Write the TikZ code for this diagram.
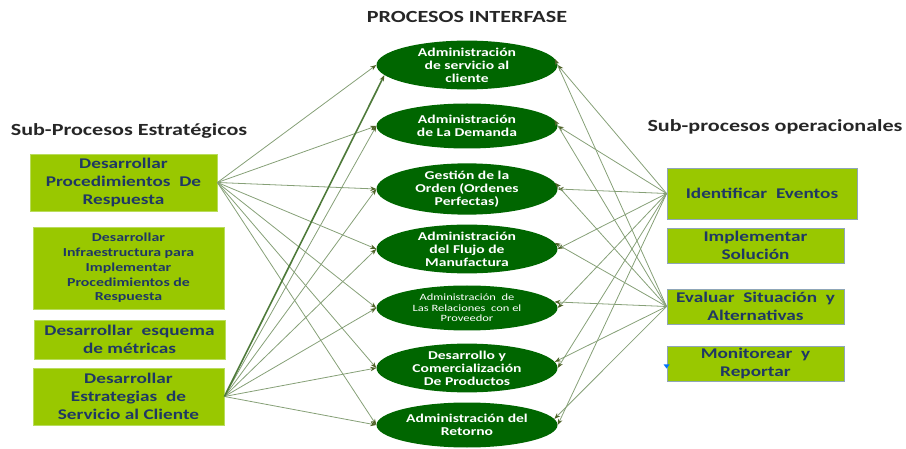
\documentclass[tikz,border=0pt]{standalone}
\usepackage{fontspec}
\setmainfont{Carlito}
\newfontfamily\widefont{Carlito}[FakeStretch=1.3]
\usetikzlibrary{arrows.meta,shapes.geometric}

\definecolor{boxgreen}{HTML}{99C800}
\definecolor{boxedge}{HTML}{B9DC5C}
\definecolor{opedge}{HTML}{8FA6B8}
\definecolor{ovalgreen}{HTML}{006600}
\definecolor{navy}{HTML}{1F3864}
\definecolor{titlegray}{HTML}{262626}
\definecolor{linkgreen}{HTML}{86A077}
\definecolor{tipgreen}{HTML}{4F6228}
\definecolor{thickgreen}{HTML}{4E7A3A}

\tikzset{
  heading/.style={text=titlegray, font=\widefont\bfseries\fontsize{17}{20}\selectfont, inner sep=0},
  stratbox/.style={rectangle, fill=boxgreen, draw=boxedge, line width=0.8pt, text=navy,
    align=center, inner sep=0, font=\widefont\bfseries\fontsize{14.8}{18}\selectfont},
  opbox/.style={stratbox, draw=opedge},
  proc/.style={ellipse, fill=ovalgreen, text=white, minimum width=181pt, minimum height=45pt,
    inner sep=0, align=center, font=\widefont\bfseries\fontsize{12}{13}\selectfont},
  link/.style={draw=linkgreen, line width=0.8pt,
    -{Stealth[length=6pt,width=4.5pt,color=tipgreen]}},
  boldlink/.style={link, draw=thickgreen, line width=1.6pt}
}

\begin{document}
\begin{tikzpicture}[x=1pt,y=-1pt]
\useasboundingbox (0,0) rectangle (906,449);

% headings
\node[heading] (hmid) at (467,17) {PROCESOS INTERFASE};
\node[heading] (hleft) at (129,131) {Sub-Procesos Estratégicos};
\node[heading] (hright) at (775,127) {Sub-procesos operacionales};

% strategic sub-processes
\node[stratbox, minimum width=187pt, minimum height=57pt] (b1) at (123.5,182.5)
  {Desarrollar\\Procedimientos~ De\\Respuesta};
\node[stratbox, minimum width=191pt, minimum height=82pt,
  font=\widefont\bfseries\fontsize{12.2}{14.8}\selectfont] (b2) at (128.5,268)
  {Desarrollar\\Infraestructura para\\Implementar\\Procedimientos de\\Respuesta};
\node[stratbox, minimum width=191pt, minimum height=39pt] (b3) at (129.5,339.5)
  {Desarrollar~ esquema\\de métricas};
\node[stratbox, minimum width=191pt, minimum height=57pt] (b4) at (128.5,396.5)
  {Desarrollar\\Estrategias~ de\\Servicio al Cliente};

% interface processes
\node[proc] (e1) at (467,65) {Administración\\de servicio al\\cliente};
\node[proc] (e2) at (467,126) {Administración\\de La Demanda};
\node[proc] (e3) at (467,189) {Gestión de la\\Orden (Ordenes\\Perfectas)};
\node[proc] (e4) at (467,249) {Administración\\del Flujo de\\Manufactura};
\node[proc, font=\widefont\fontsize{9.6}{10.5}\selectfont] (e5) at (467,308)
  {Administración~ de\\Las Relaciones~ con el\\Proveedor};
\node[proc] (e6) at (467,368) {Desarrollo y\\Comercialización\\De Productos};
\node[proc] (e7) at (467,425) {Administración del\\Retorno};

% operational sub-processes
\node[opbox, minimum width=190pt, minimum height=51pt] (r1) at (762,193.5)
  {Identificar~ Eventos};
\node[opbox, minimum width=177pt, minimum height=35pt] (r2) at (755.5,245.5)
  {Implementar\\Solución};
\node[opbox, minimum width=177pt, minimum height=35pt] (r3) at (755.5,306.5)
  {Evaluar~ Situación~ y\\Alternativas};
\node[opbox, minimum width=177pt, minimum height=35pt] (r4) at (755.5,363.5)
  {Monitorear~ y\\Reportar};
\fill[blue!55!cyan] ([xshift=-3pt,yshift=-1pt]r4.west) -- ++(6,0) -- ++(-3,4) -- cycle;

% connectors from the strategic side
\foreach \e in {e1,e2,e3,e4,e5,e6,e7}
  \draw[link] (b1.east) -- (\e.west);
\foreach \e in {e2,e3,e4,e5,e6,e7}
  \draw[link] (b4.east) -- (\e.west);
\draw[boldlink] (b4.east) -- (e1.187);

% connectors from the operational side
\foreach \e in {e1,e2,e3,e4,e5,e6,e7}
  \draw[link] (r1.west) -- (\e.east);
\foreach \e in {e1,e2,e3,e4,e5,e6,e7}
  \draw[link] (r3.west) -- (\e.4);
\end{tikzpicture}
\end{document}
